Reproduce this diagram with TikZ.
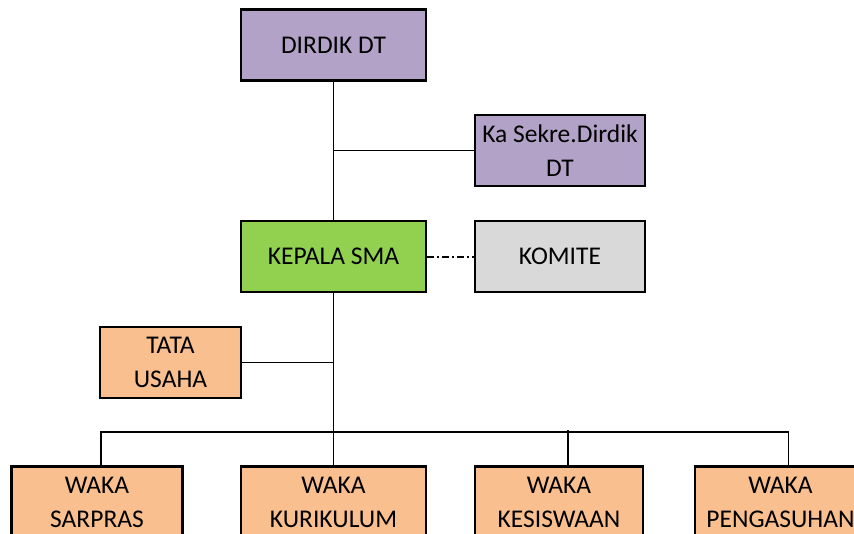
\documentclass[tikz,border=0pt]{standalone}
\usepackage{fontspec}
\setmainfont{Carlito}
\definecolor{lila}{HTML}{B3A2C7}
\definecolor{hijau}{HTML}{92D050}
\definecolor{abu}{HTML}{D9D9D9}
\definecolor{oranye}{HTML}{FABF8F}
\begin{document}
\begin{tikzpicture}[x = 1pt, y = -1pt,
		box/.style = {draw, line width = 2.6pt, minimum height = 71pt, align = center, inner sep = 0pt, font = \fontsize{25.5}{34}\selectfont},
		link/.style = {line width = 1.3pt}]
		\clip (0, 0) rectangle (854, 533);
		\node[box, fill = lila, minimum width = 185pt] (dirdik) at (333.5, 45) {DIRDIK DT};
		\node[box, fill = lila, minimum width = 170pt] (sekre) at (560, 150.5) {Ka Sekre.Dirdik\\DT};
		\node[box, fill = hijau, minimum width = 185pt] (kepala) at (333.5, 256.5) {KEPALA SMA};
		\node[box, fill = abu, minimum width = 170pt] (komite) at (560, 256.5) {KOMITE};
		\node[box, fill = oranye, minimum width = 141pt] (tu) at (170.5, 362.5) {TATA\\USAHA};
		\node[box, fill = oranye, minimum width = 171pt] (sarpras) at (97, 502) {WAKA\\SARPRAS};
		\node[box, fill = oranye, minimum width = 185pt] (kurikulum) at (333.5, 502) {WAKA\\KURIKULUM};
		\node[box, fill = oranye, minimum width = 168pt] (kesiswaan) at (559, 502) {WAKA\\KESISWAAN};
		\node[box, fill = oranye, minimum width = 171pt] (pengasuhan) at (780.5, 502) {WAKA\\PENGASUHAN};
		\coordinate (bus) at (335, 432);
		\draw[link] (dirdik.south) -- (kepala.north);
		\draw[link] (dirdik.south |- sekre.west) -- (sekre.west);
		\draw[link, dash pattern = on 7pt off 3pt on 2pt off 3pt, line width = 2pt] (kepala.east) -- (komite.west);
		\draw[link] (kepala.south) -- (kurikulum.north);
		\draw[link] (kepala.south |- tu.east) -- (tu.east);
		\draw[link] ([xshift = 4pt]sarpras.north) |- (bus) -| ([xshift = 8pt]pengasuhan.north);
		\draw[link] ([xshift = 9pt]kesiswaan.north) -- ++(0, -35);
	\end{tikzpicture}
\end{document}
